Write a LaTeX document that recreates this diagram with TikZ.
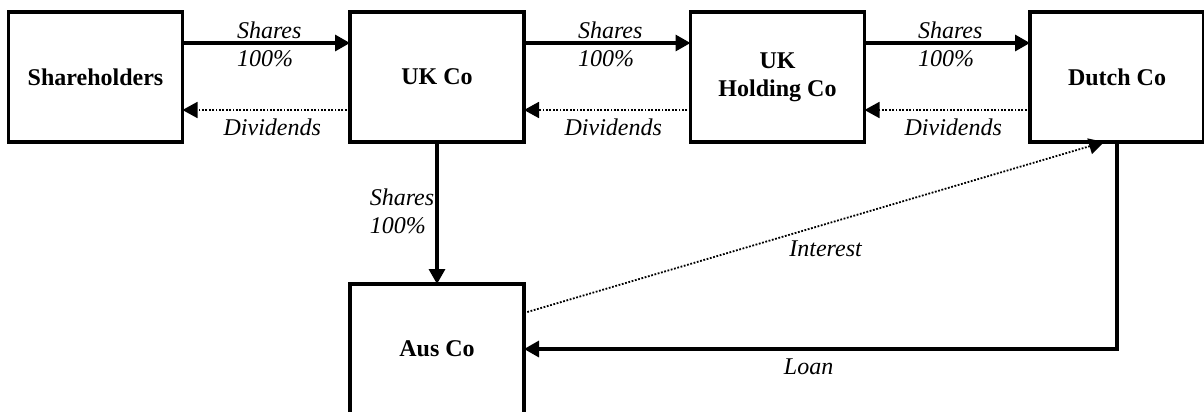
\documentclass[tikz,border=0pt]{standalone}
\usepackage{fontspec}
\setmainfont{Liberation Serif}
\usetikzlibrary{arrows.meta}

\tikzset{every picture/.style={line width=0.75pt}}
\tikzset{
  firm/.style={draw, line width=1.6pt, minimum width=87pt, minimum height=65pt,
    inner sep=0pt, outer sep=0pt, align=center, font=\fontsize{12}{14}\selectfont\bfseries},
  owns/.style={line width=1.6pt, -{Triangle[length=7.5pt,width=8pt]}},
  pays/.style={line width=0.9pt, dash pattern=on 0.9pt off 0.8pt, -{Triangle[length=7.5pt,width=8pt]}},
  lbl/.style={inner sep=0pt, align=left, font=\fontsize{12}{14}\selectfont\itshape},
}

\begin{document}
\begin{tikzpicture}[x=0.5pt,y=0.5pt,yscale=-1,xscale=1]
\useasboundingbox (0,0) rectangle (1204,412);

% Boxes
\node[firm] (share) at (95.5,77) {Shareholders};
\node[firm] (ukco) at (437,77) {UK Co};
\node[firm] (ukhold) at (777.5,77) {UK\\Holding Co};
\node[firm] (dutch) at (1117,77) {Dutch Co};
\node[firm] (aus) at (437,349) {Aus Co};

%Straight Lines: shares
\draw[owns] ([yshift=-17pt]share.east) -- ([yshift=-17pt]ukco.west)
  node[lbl, midway, xshift=1.5pt, yshift=-0.5pt] {Shares\\100\%};
\draw[owns] ([yshift=-17pt]ukco.east) -- ([yshift=-17pt]ukhold.west)
  node[lbl, midway, xshift=1.5pt, yshift=-0.5pt] {Shares\\100\%};
\draw[owns] ([yshift=-17pt]ukhold.east) -- ([yshift=-17pt]dutch.west)
  node[lbl, midway, xshift=1.5pt, yshift=-0.5pt] {Shares\\100\%};
\draw[owns] (ukco.south) -- (aus.north)
  node[lbl, midway, anchor=east, xshift=-0.6pt, yshift=0.75pt] {Shares\\100\%};

%Dotted Lines: dividends
\draw[pays] ([yshift=16.5pt]ukco.west) -- ([yshift=16.5pt]share.east)
  node[lbl, midway, anchor=north, xshift=3pt, yshift=-4pt] {Dividends};
\draw[pays] ([yshift=16.5pt]ukhold.west) -- ([yshift=16.5pt]ukco.east)
  node[lbl, midway, anchor=north, xshift=3pt, yshift=-4pt] {Dividends};
\draw[pays] ([yshift=16.5pt]dutch.west) -- ([yshift=16.5pt]ukhold.east)
  node[lbl, midway, anchor=north, xshift=3pt, yshift=-4pt] {Dividends};

% Interest and loan
\draw[pays] ([yshift=-18pt]aus.east) -- ([xshift=-6.5pt]dutch.south)
  node[lbl, pos=0.52, anchor=north, yshift=-8pt] {Interest};
\draw[owns] (dutch.south) |- (aus.east)
  node[lbl, pos=0.76, anchor=north, yshift=-4pt] {Loan};

\end{tikzpicture}
\end{document}
